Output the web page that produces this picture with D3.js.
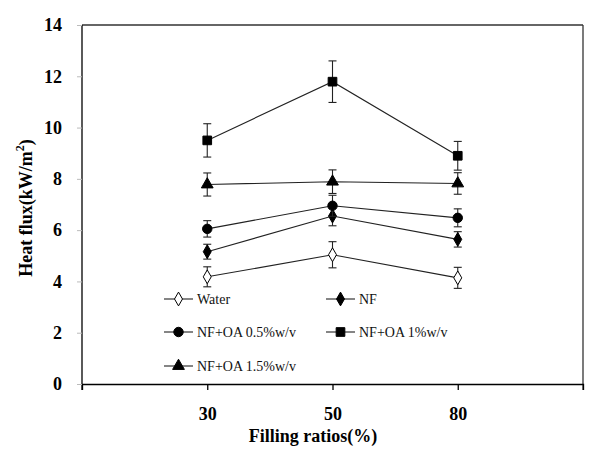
<!DOCTYPE html>
<html>
<head>
<meta charset="utf-8">
<script src="https://cdn.jsdelivr.net/npm/d3@7"></script>
<style>
  body { margin: 0; background: #fff; }
  svg text { font-family: "Liberation Serif", "Times New Roman", serif; }
</style>
</head>
<body>
<div class="chart"></div>
<script>
var width = 600, height = 457;
var plotLeft = 82, plotRight = 583, plotTop = 25, plotBottom = 384;

var ratios = ["30", "50", "80"];
var yTicks = [0, 2, 4, 6, 8, 10, 12, 14];
var seriesNames = ["Water", "NF", "NF+OA 0.5%w/v", "NF+OA 1%w/v", "NF+OA 1.5%w/v"];
var seriesShapes = ["openDiamond", "diamond", "circle", "square", "triangle"];

var waterVals = [4.18, 5.04, 4.14];
var waterErr = [0.39, 0.51, 0.41];
var nfVals = [5.16, 6.55, 5.64];
var nfErr = [0.29, 0.38, 0.30];
var oa05Vals = [6.05, 6.95, 6.48];
var oa05Err = [0.32, 0.41, 0.35];
var oa1Vals = [9.50, 11.79, 8.90];
var oa1Err = [0.65, 0.81, 0.56];
var oa15Vals = [7.78, 7.89, 7.82];
var oa15Err = [0.45, 0.46, 0.42];

var allVals = [waterVals, nfVals, oa05Vals, oa1Vals, oa15Vals];
var allErr = [waterErr, nfErr, oa05Err, oa1Err, oa15Err];

var svg = d3.select(".chart").append("svg")
    .attr("width", width)
    .attr("height", height);

var xScale = d3.scalePoint().domain(ratios).range([plotLeft, plotRight]).padding(1);
var yScale = d3.scaleLinear().domain([0, 14]).range([plotBottom, plotTop]);

// frame (top and right)
svg.append("line")
    .attr("x1", plotLeft).attr("x2", plotRight)
    .attr("y1", plotTop).attr("y2", plotTop)
    .attr("stroke", "#333").attr("stroke-width", 1.3);
svg.append("line")
    .attr("x1", plotRight).attr("x2", plotRight)
    .attr("y1", plotTop).attr("y2", plotBottom + 6)
    .attr("stroke", "#333").attr("stroke-width", 1.3);

var xAxis = d3.axisBottom(xScale).tickSize(6).tickSizeOuter(6).tickPadding(17);
var gx = svg.append("g")
    .attr("transform", "translate(0," + plotBottom + ")")
    .call(xAxis)
    .attr("font-family", null);
gx.selectAll("path, line").attr("stroke", "#000").attr("stroke-width", 1.3);
gx.selectAll("text")
    .attr("font-size", 18).attr("font-weight", "bold").attr("fill", "#000");

var yAxis = d3.axisLeft(yScale).tickValues(yTicks).tickSize(5).tickSizeOuter(0).tickPadding(15);
var gy = svg.append("g")
    .attr("transform", "translate(" + plotLeft + ",0)")
    .call(yAxis)
    .attr("font-family", null);
gy.select(".domain").attr("stroke", "#000").attr("stroke-width", 1.3)
    .attr("d", "M0," + plotTop + "V" + (plotBottom + 6));
gy.selectAll(".tick line").attr("stroke", "#bbb");
gy.selectAll("text")
    .attr("font-size", 18).attr("font-weight", "bold").attr("fill", "#000");

svg.append("text")
    .attr("x", 313).attr("y", 442)
    .attr("text-anchor", "middle")
    .attr("font-size", 18).attr("font-weight", "bold")
    .text("Filling ratios(%)");

var yTitle = svg.append("text")
    .attr("transform", "translate(32,208) rotate(-90)")
    .attr("text-anchor", "middle")
    .attr("font-size", 18).attr("font-weight", "bold");
yTitle.append("tspan").text("Heat flux(kW/m");
yTitle.append("tspan").attr("font-size", 12).attr("dy", -8).text("2");
yTitle.append("tspan").attr("dy", 8).text(")");

var symbolFor = {
    openDiamond: { type: d3.symbolDiamond, size: 55, fill: "#fff" },
    diamond: { type: d3.symbolDiamond, size: 55, fill: "#000" },
    circle: { type: d3.symbolCircle, size: 70, fill: "#000" },
    square: { type: d3.symbolSquare, size: 75, fill: "#000" },
    triangle: { type: d3.symbolTriangle, size: 60, fill: "#000" }
};

var drawMarker = function(g, shape, x, y) {
    var s = symbolFor[shape];
    g.append("path")
        .attr("d", d3.symbol().type(s.type).size(s.size)())
        .attr("transform", "translate(" + x + "," + y + ")")
        .attr("fill", s.fill)
        .attr("stroke", "#000")
        .attr("stroke-width", 1);
};

var line = d3.line()
    .x(function(d) { return xScale(d.r); })
    .y(function(d) { return yScale(d.v); });

for (var i = 0; i < seriesNames.length; i++) {
    var data = ratios.map(function(r, j) {
        return { r: r, v: allVals[i][j], e: allErr[i][j] };
    });
    var g = svg.append("g");

    g.append("path")
        .datum(data)
        .attr("d", line)
        .attr("fill", "none")
        .attr("stroke", "#222")
        .attr("stroke-width", 1.1);

    data.forEach(function(d) {
        var cx = xScale(d.r);
        var y1 = yScale(d.v + d.e), y2 = yScale(d.v - d.e);
        g.append("line").attr("x1", cx).attr("x2", cx).attr("y1", y1).attr("y2", y2)
            .attr("stroke", "#222").attr("stroke-width", 1.1);
        [y1, y2].forEach(function(yy) {
            g.append("line").attr("x1", cx - 4).attr("x2", cx + 4).attr("y1", yy).attr("y2", yy)
                .attr("stroke", "#222").attr("stroke-width", 1.1);
        });
        drawMarker(g, seriesShapes[i], cx, yScale(d.v));
    });
}

// legend
var legendX = [164, 326];
var legendY = [299, 332, 366];
for (var k = 0; k < seriesNames.length; k++) {
    var lx = legendX[k % 2], ly = legendY[Math.floor(k / 2)];
    var lg = svg.append("g");
    lg.append("line").attr("x1", lx).attr("x2", lx + 29).attr("y1", ly).attr("y2", ly)
        .attr("stroke", "#222").attr("stroke-width", 1.1);
    drawMarker(lg, seriesShapes[k], lx + 14.5, ly);
    lg.append("text")
        .attr("x", lx + 33).attr("y", ly + 5)
        .attr("font-size", 14)
        .attr("fill", "#111")
        .text(seriesNames[k]);
}
</script>
</body>
</html>
